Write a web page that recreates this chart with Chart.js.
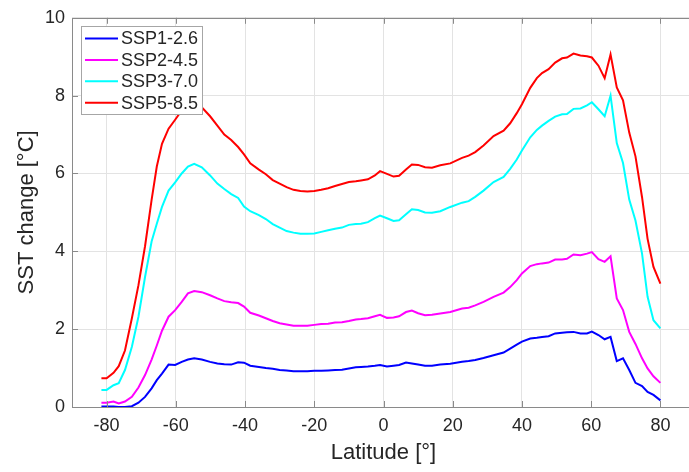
<!DOCTYPE html>
<html>
<head>
<meta charset="utf-8">
<script src="https://cdn.jsdelivr.net/npm/chart.js@4/dist/chart.umd.min.js"></script>
<style>
    html, body { margin: 0; padding: 0; background: #fff; overflow: hidden; }
    canvas { display: block; }
</style>
</head>
<body>
<!-- a few px wider than the page: the right edge of the axes box falls just outside -->
<canvas id="sstChart" width="695" height="472"></canvas>
<script>
// zonal-mean SST change by latitude, one row per scenario
const latitudes = [
    -81.5, -80, -78, -76.5, -74.7, -72.7, -70.8, -68.9, -67, -65.5, -64, -62.1,
    -60.2, -58.3, -56.5, -54.7, -52.5, -50.1, -48, -46, -44, -42, -40.3, -38.5,
    -36, -34, -32, -30, -28, -26, -24, -22, -20, -18, -16, -14,
    -12, -10, -8, -6.5, -4.5, -2.5, -1, 1, 2.9, 4.5, 6.5, 8.2,
    10, 12, 14, 16.4, 19.3, 22.7, 24.6, 26.5, 28.9, 31.8, 34.7, 36.6,
    38.5, 40, 42.4, 44.3, 45.8, 47.7, 49.6, 51.6, 53, 54.9, 56.9, 58.8,
    60.2, 62.1, 63.9, 65.6, 67.4, 69.2, 71, 72.8, 74.7, 76.3, 78, 80
];

const ssp126 = [
    0.01, 0.01, 0.01, 0.00, 0.00, 0.02, 0.11, 0.26, 0.48, 0.69, 0.86, 1.09,
    1.08, 1.16, 1.22, 1.25, 1.22, 1.16, 1.12, 1.10, 1.09, 1.15, 1.14, 1.06,
    1.03, 1.00, 0.98, 0.95, 0.94, 0.92, 0.92, 0.92, 0.93, 0.93, 0.94, 0.95,
    0.96, 0.99, 1.02, 1.03, 1.04, 1.06, 1.08, 1.04, 1.06, 1.08, 1.14, 1.12,
    1.09, 1.06, 1.06, 1.09, 1.11, 1.16, 1.18, 1.21, 1.26, 1.33, 1.40, 1.50,
    1.60, 1.68, 1.76, 1.78, 1.80, 1.82, 1.89, 1.91, 1.92, 1.93, 1.89, 1.89,
    1.94, 1.85, 1.74, 1.80, 1.18, 1.25, 0.95, 0.62, 0.54, 0.39, 0.31, 0.17
];

const ssp245 = [
    0.11, 0.11, 0.14, 0.09, 0.14, 0.26, 0.50, 0.82, 1.22, 1.58, 1.96, 2.32,
    2.49, 2.70, 2.92, 2.98, 2.95, 2.87, 2.79, 2.72, 2.69, 2.67, 2.58, 2.42,
    2.35, 2.28, 2.21, 2.15, 2.12, 2.09, 2.09, 2.09, 2.11, 2.13, 2.14, 2.17,
    2.18, 2.21, 2.25, 2.26, 2.28, 2.33, 2.37, 2.29, 2.30, 2.33, 2.44, 2.48,
    2.41, 2.36, 2.37, 2.40, 2.44, 2.53, 2.55, 2.61, 2.70, 2.83, 2.94, 3.08,
    3.26, 3.43, 3.62, 3.67, 3.69, 3.71, 3.79, 3.79, 3.81, 3.92, 3.90, 3.94,
    3.98, 3.80, 3.73, 3.87, 2.79, 2.49, 1.93, 1.62, 1.25, 0.99, 0.79, 0.62
];

const ssp370 = [
    0.44, 0.44, 0.56, 0.61, 0.95, 1.55, 2.32, 3.34, 4.25, 4.71, 5.14, 5.56,
    5.77, 6.00, 6.18, 6.25, 6.16, 5.95, 5.74, 5.60, 5.47, 5.37, 5.15, 5.03,
    4.93, 4.83, 4.70, 4.61, 4.52, 4.48, 4.45, 4.45, 4.46, 4.50, 4.54, 4.58,
    4.61, 4.68, 4.70, 4.71, 4.75, 4.85, 4.92, 4.85, 4.78, 4.80, 4.95, 5.08,
    5.06, 5.00, 4.99, 5.03, 5.14, 5.25, 5.29, 5.40, 5.56, 5.78, 5.91, 6.12,
    6.36, 6.59, 6.93, 7.12, 7.23, 7.35, 7.46, 7.52, 7.53, 7.66, 7.67, 7.75,
    7.83, 7.65, 7.47, 8.00, 6.78, 6.27, 5.33, 4.79, 3.94, 2.83, 2.23, 2.02
];

const ssp585 = [
    0.74, 0.74, 0.88, 1.05, 1.45, 2.28, 3.13, 4.13, 5.32, 6.18, 6.76, 7.15,
    7.38, 7.62, 7.78, 7.82, 7.70, 7.47, 7.23, 7.00, 6.86, 6.68, 6.49, 6.26,
    6.10, 5.98, 5.83, 5.74, 5.65, 5.58, 5.55, 5.54, 5.55, 5.58, 5.62, 5.68,
    5.73, 5.78, 5.80, 5.82, 5.85, 5.95, 6.06, 5.99, 5.92, 5.94, 6.10, 6.23,
    6.22, 6.16, 6.15, 6.21, 6.26, 6.40, 6.46, 6.55, 6.72, 6.96, 7.10, 7.29,
    7.55, 7.78, 8.20, 8.45, 8.58, 8.68, 8.85, 8.96, 8.98, 9.08, 9.03, 9.01,
    8.98, 8.77, 8.45, 9.06, 8.21, 7.88, 7.05, 6.44, 5.39, 4.32, 3.60, 3.17
];

const scenarioNames = ["SSP1-2.6", "SSP2-4.5", "SSP3-7.0", "SSP5-8.5"];
const scenarioColors = ["#0000ff", "#ff00ff", "#00ffff", "#ff0000"];
const latTicks = [-80, -60, -40, -20, 0, 20, 40, 60, 80];
const sstTicks = [0, 2, 4, 6, 8, 10];

const FONT = "'Liberation Sans', Arial, Helvetica, sans-serif";
const TEXT = "#262626";
const AXIS = "#8a8a8a";

const toPoints = (values) => latitudes.map((lat, i) => ({ x: lat, y: values[i] }));

// box, inward tick marks and an in-plot legend, drawn the way MATLAB does
const matlabFrame = {
    id: "matlabFrame",
    afterDatasetsDraw(chart) {
        const { ctx, chartArea: a, scales: { x, y } } = chart;
        ctx.save();
        ctx.strokeStyle = AXIS;
        ctx.lineWidth = 1;
        ctx.beginPath();
        ctx.rect(Math.round(a.left) + 0.5, Math.round(a.top) + 0.5,
            Math.round(a.right - a.left), Math.round(a.bottom - a.top));
        x.ticks.forEach((t) => {
            const px = Math.round(x.getPixelForValue(t.value)) + 0.5;
            ctx.moveTo(px, a.bottom); ctx.lineTo(px, a.bottom - 6);
            ctx.moveTo(px, a.top); ctx.lineTo(px, a.top + 6);
        });
        y.ticks.forEach((t) => {
            const py = Math.round(y.getPixelForValue(t.value)) + 0.5;
            ctx.moveTo(a.left, py); ctx.lineTo(a.left + 6, py);
            ctx.moveTo(a.right, py); ctx.lineTo(a.right - 6, py);
        });
        ctx.stroke();
        ctx.restore();
    },
    afterDraw(chart) {
        const { ctx, chartArea: a } = chart;
        const boxX = Math.round(a.left) + 9.5;
        const boxY = Math.round(a.top) + 8.5;
        const boxW = 121;
        const boxH = 88;
        const rowH = 21.4;

        ctx.save();
        ctx.fillStyle = "#ffffff";
        ctx.fillRect(boxX, boxY, boxW, boxH);
        ctx.strokeStyle = "#a6a6a6";
        ctx.lineWidth = 1;
        ctx.strokeRect(boxX, boxY, boxW, boxH);

        ctx.font = `18px ${FONT}`;
        ctx.textBaseline = "middle";
        ctx.textAlign = "left";
        chart.data.datasets.forEach((ds, i) => {
            const rowY = boxY + 12 + i * rowH;
            ctx.strokeStyle = ds.borderColor;
            ctx.lineWidth = 2;
            ctx.beginPath();
            ctx.moveTo(boxX + 3.5, rowY);
            ctx.lineTo(boxX + 36.5, rowY);
            ctx.stroke();
            ctx.fillStyle = TEXT;
            ctx.fillText(ds.label, boxX + 39.5, rowY + 1);
        });
        ctx.restore();
    }
};

new Chart(document.getElementById("sstChart"), {
    type: "line",
    data: {
        datasets: [ssp126, ssp245, ssp370, ssp585].map((values, i) => ({
            label: scenarioNames[i],
            data: toPoints(values),
            borderColor: scenarioColors[i],
            backgroundColor: scenarioColors[i],
            borderWidth: 2,
            pointRadius: 0,
            tension: 0,
            fill: false
        }))
    },
    options: {
        responsive: false,
        devicePixelRatio: 1,
        animation: false,
        layout: { padding: { top: 17, right: 0, bottom: 0, left: 0 } },
        plugins: {
            legend: { display: false },
            tooltip: { enabled: false }
        },
        scales: {
            x: {
                type: "linear",
                min: -90,
                max: 90,
                afterBuildTicks: (scale) => {
                    scale.ticks = latTicks.map((value) => ({ value }));
                },
                afterFit: (scale) => { scale.height = 65; },
                grid: { color: "#e3e3e3", drawTicks: false },
                border: { display: false },
                ticks: {
                    autoSkip: false,
                    maxRotation: 0,
                    padding: 8,
                    color: TEXT,
                    font: { family: FONT, size: 18 }
                },
                title: {
                    display: true,
                    text: "Latitude [°]",
                    color: TEXT,
                    font: { family: FONT, size: 22 },
                    padding: { top: 0, bottom: 6 }
                }
            },
            y: {
                min: 0,
                max: 10,
                afterBuildTicks: (scale) => {
                    scale.ticks = sstTicks.map((value) => ({ value }));
                },
                afterFit: (scale) => { scale.width = 72; },
                grid: { color: "#e3e3e3", drawTicks: false },
                border: { display: false },
                ticks: {
                    padding: 7,
                    color: TEXT,
                    font: { family: FONT, size: 18 }
                },
                title: {
                    display: true,
                    text: "SST change [°C]",
                    color: TEXT,
                    font: { family: FONT, size: 22 },
                    padding: { top: 14, bottom: 0 }
                }
            }
        }
    },
    plugins: [matlabFrame]
});
</script>
</body>
</html>
